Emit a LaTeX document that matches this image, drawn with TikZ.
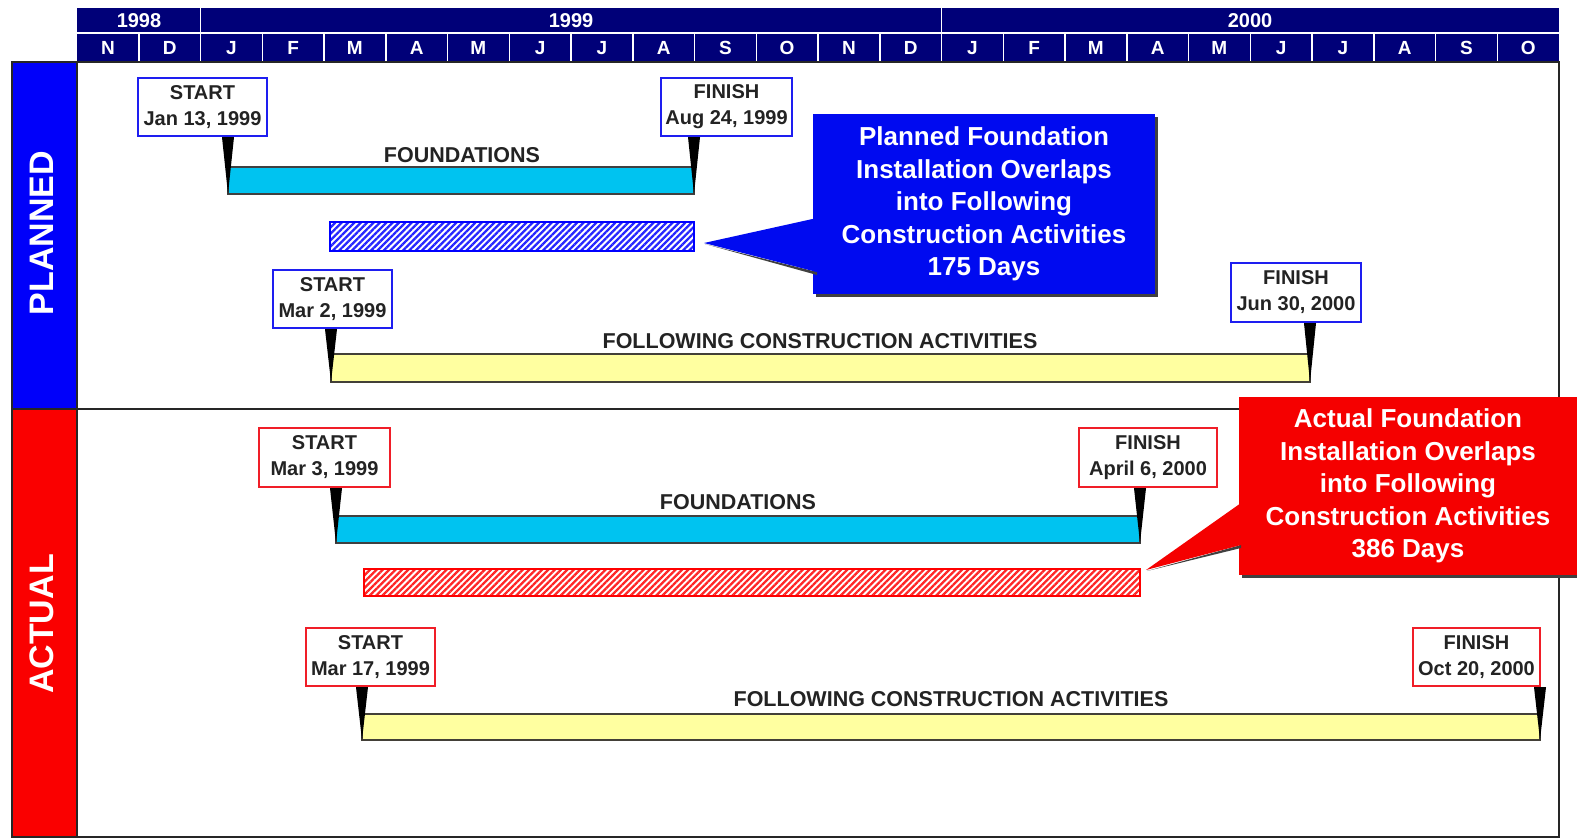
\documentclass[tikz,border=0pt]{standalone}
\usepackage{fontspec}
\setmainfont{Liberation Sans}
\usetikzlibrary{calc,patterns.meta,shadows}
\definecolor{navy}{RGB}{0,0,120}
\definecolor{lblue}{RGB}{0,0,250}
\definecolor{lred}{RGB}{250,0,0}
\definecolor{boxblue}{RGB}{30,30,240}
\definecolor{boxred}{RGB}{240,30,40}
\definecolor{cyanbar}{RGB}{0,195,240}
\definecolor{yelbar}{RGB}{255,255,160}
\definecolor{txtgray}{RGB}{35,35,35}
\definecolor{calblue}{RGB}{0,10,240}
\definecolor{calred}{RGB}{245,0,0}
\newcommand{\drawmarker}[2]{%
  \coordinate (mk) at (#1 |- #2.south);
  \fill[black] ($(mk)+(-6,0)$) -- ($(mk)+(6,0)$) -- (#1) -- cycle;}
\begin{document}
\begin{tikzpicture}[x=1pt,y=-1pt,
  hdr/.style={text=white, font=\bfseries\fontsize{19}{19}\selectfont, inner sep=0},
  yhdr/.style={text=white, font=\bfseries\fontsize{20}{20}\selectfont, inner sep=0},
  datebox/.style={line width=2.4, fill=white, minimum height=58, align=center, text=txtgray,
     font=\bfseries\fontsize{20}{26}\selectfont, inner sep=0},
  pbox/.style={datebox, draw=boxblue},
  abox/.style={datebox, draw=boxred},
  barbase/.style={draw=black!75, line width=1.5, inner sep=0, outer sep=0, anchor=north west},
  cbar/.style={barbase, fill=cyanbar},
  ybar/.style={barbase, fill=yelbar, draw=black!70!yellow!50!black},
  hbarb/.style={draw=blue, line width=1.5, inner sep=0, outer sep=0, anchor=north west,
     pattern={Lines[angle=45,distance=4.5pt,line width=2.3pt]}, pattern color=blue!85!white},
  hbarr/.style={draw=red, line width=1.5, inner sep=0, outer sep=0, anchor=north west,
     pattern={Lines[angle=45,distance=4.5pt,line width=2.3pt]}, pattern color=red!85!white},
  blabel/.style={font=\bfseries\fontsize{21.5}{21.5}\selectfont, text=txtgray, inner sep=0},
  callout/.style={text=white, align=center, inner sep=0,
     font=\bfseries\fontsize{26}{32.5}\selectfont,
     drop shadow={shadow xshift=3pt, shadow yshift=-3pt, fill=black!75, opacity=1}},
  sidelabel/.style={rotate=90, text=white, font=\bfseries\fontsize{34}{34}\selectfont, inner sep=0}
]
\useasboundingbox (0,0) rectangle (1577,838);
\fill[white] (0,0) rectangle (1577,838);

% header
\fill[navy] (77,8) rectangle (1559,62);
\draw[white, line width=1.5] (77,33) -- (1559,33);
\draw[white, line width=1.5] (200.5,8) -- (200.5,33);
\draw[white, line width=1.5] (941.5,8) -- (941.5,33);
\foreach \k in {1,...,23} {
  \draw[white, line width=1.5] ({77+\k*61.75},33) -- ({77+\k*61.75},62);
}
\node[yhdr] (y98) at (139,21) {1998};
\node[yhdr] (y99) at (571,21) {1999};
\node[yhdr] (y00) at (1250,21) {2000};
\foreach \m [count=\i from 0] in {N,D,J,F,M,A,M,J,J,A,S,O,N,D,J,F,M,A,M,J,J,A,S,O} {
  \node[hdr] at ({77+(\i+0.5)*61.75},48) {\m};
}

% left labels
\fill[lblue] (12,62) rectangle (77,409);
\fill[lred] (12,409) rectangle (77,837);
\node[sidelabel] (pl) at (42,233) {PLANNED};
\node[sidelabel] (ac) at (42,624) {ACTUAL};

% frames
\draw[black!85, line width=2] (12,62) rectangle (1559,837);
\draw[black!85, line width=2] (77,62) -- (77,837);
\draw[black!85, line width=2] (12,409) -- (1559,409);

% ---------- PLANNED ----------
\node[cbar, minimum width=466, minimum height=27] (fb1) at (228,167) {};
\node[blabel] (fl1) at (462,155) {FOUNDATIONS};
\node[pbox, minimum width=129] (ps1) at (202.5,107) {START\\Jan 13, 1999};
\node[pbox, minimum width=131] (pf1) at (726.5,107) {FINISH\\Aug 24, 1999};
\drawmarker{fb1.south west}{ps1}
\drawmarker{fb1.south east}{pf1}

\node[hbarb, minimum width=364, minimum height=29] (hb1) at (330,222) {};

\node[ybar, minimum width=979, minimum height=28] (yb1) at (331,354) {};
\node[blabel] (fl2) at (820,341) {FOLLOWING CONSTRUCTION ACTIVITIES};
\node[pbox, minimum width=119] (ps2) at (332.5,299) {START\\Mar 2, 1999};
\node[pbox, minimum width=130, minimum height=59] (pf2) at (1296,292.5) {FINISH\\Jun 30, 2000};
\drawmarker{yb1.south west}{ps2}
\drawmarker{yb1.south east}{pf2}

% planned callout
\node[callout, fill=calblue, minimum width=342, minimum height=180] (cb) at (984,204)
  {Planned Foundation\\Installation Overlaps\\into Following\\Construction Activities\\175 Days};
\coordinate (tipb) at (704,243);
\coordinate (b1) at (817,218);
\coordinate (b2) at (817,272);
\fill[black!75] ($(tipb)+(1,1)$) -- ($(b2)+(0,3)$) -- (b2) -- cycle;
\fill[calblue] (tipb) -- (b1) -- (b2) -- cycle;

% ---------- ACTUAL ----------
\node[cbar, minimum width=804, minimum height=27] (fb2) at (336,516) {};
\node[blabel] (fl3) at (738,502) {FOUNDATIONS};
\node[abox, minimum width=131, minimum height=59] (as1) at (324.5,457.5) {START\\Mar 3, 1999};
\node[abox, minimum width=138, minimum height=59] (af1) at (1148,457.5) {FINISH\\April 6, 2000};
\drawmarker{fb2.south west}{as1}
\drawmarker{fb2.south east}{af1}

\node[hbarr, minimum width=776, minimum height=27] (hb2) at (364,569) {};

\node[ybar, minimum width=1178, minimum height=26] (yb2) at (362,714) {};
\node[blabel] (fl4) at (951,699) {FOLLOWING CONSTRUCTION ACTIVITIES};
\node[abox, minimum width=129] (as2) at (370.5,657) {START\\Mar 17, 1999};
\node[abox, minimum width=127] (af2) at (1476.5,657) {FINISH\\Oct 20, 2000};
\drawmarker{yb2.south west}{as2}
\drawmarker{yb2.south east}{af2}

% actual callout
\node[callout, fill=calred, minimum width=338, minimum height=178] (cr) at (1408,486)
  {Actual Foundation\\Installation Overlaps\\into Following\\Construction Activities\\386 Days};
\coordinate (tipr) at (1146,570);
\coordinate (r1) at (1241,503);
\coordinate (r2) at (1241,545);
\fill[black!75] ($(tipr)+(1,1)$) -- ($(r2)+(0,3)$) -- (r2) -- cycle;
\fill[calred] (tipr) -- (r1) -- (r2) -- cycle;
\end{tikzpicture}
\end{document}
